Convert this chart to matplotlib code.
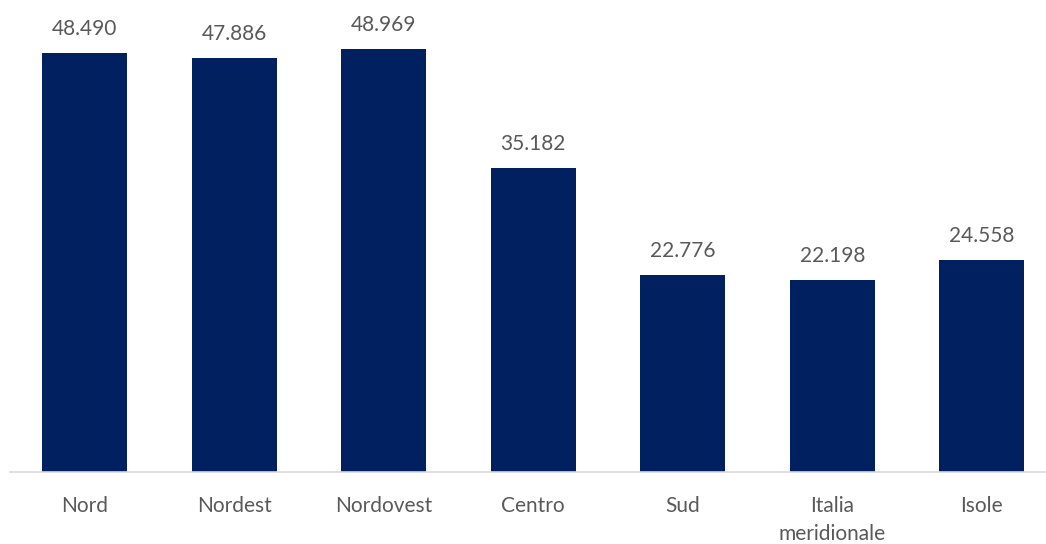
import matplotlib.pyplot as plt

regioni = ["Nord", "Nordest", "Nordovest", "Centro", "Sud", "Italia\nmeridionale", "Isole"]
valori = [48490, 47886, 48969, 35182, 22776, 22198, 24558]

plt.rcParams['font.family'] = ['Lato', 'DejaVu Sans']

fig = plt.figure(figsize=(10.46, 5.44), dpi=100)
ax = fig.add_axes([10 / 1046, 72 / 544, 1046.5 / 1046, 472 / 544])

x = range(len(regioni))
bars = ax.bar(x, valori, width=0.57, color="#002060")

# etichette con separatore delle migliaia all'italiana
for b, v in zip(bars, valori):
    ax.annotate(f"{v:,}".replace(",", "."), (b.get_x() + b.get_width() / 2, v),
                xytext=(0, 10), textcoords="offset points", ha="center", va="bottom",
                fontsize=15, color="#595959")

ax.set_xlim(-0.5, len(regioni) - 0.5)
ax.set_ylim(0, 54624)
ax.set_xticks(list(x))
ax.set_xticklabels(regioni, fontsize=15, color="#595959", linespacing=1.55, va="top")
ax.tick_params(axis="x", length=0, pad=17)
ax.set_yticks([])
for s in ["top", "right", "left"]:
    ax.spines[s].set_visible(False)
ax.spines["bottom"].set_color("#d9d9d9")
ax.spines["bottom"].set_linewidth(1.2)

fig.savefig("out.png", dpi=100)
